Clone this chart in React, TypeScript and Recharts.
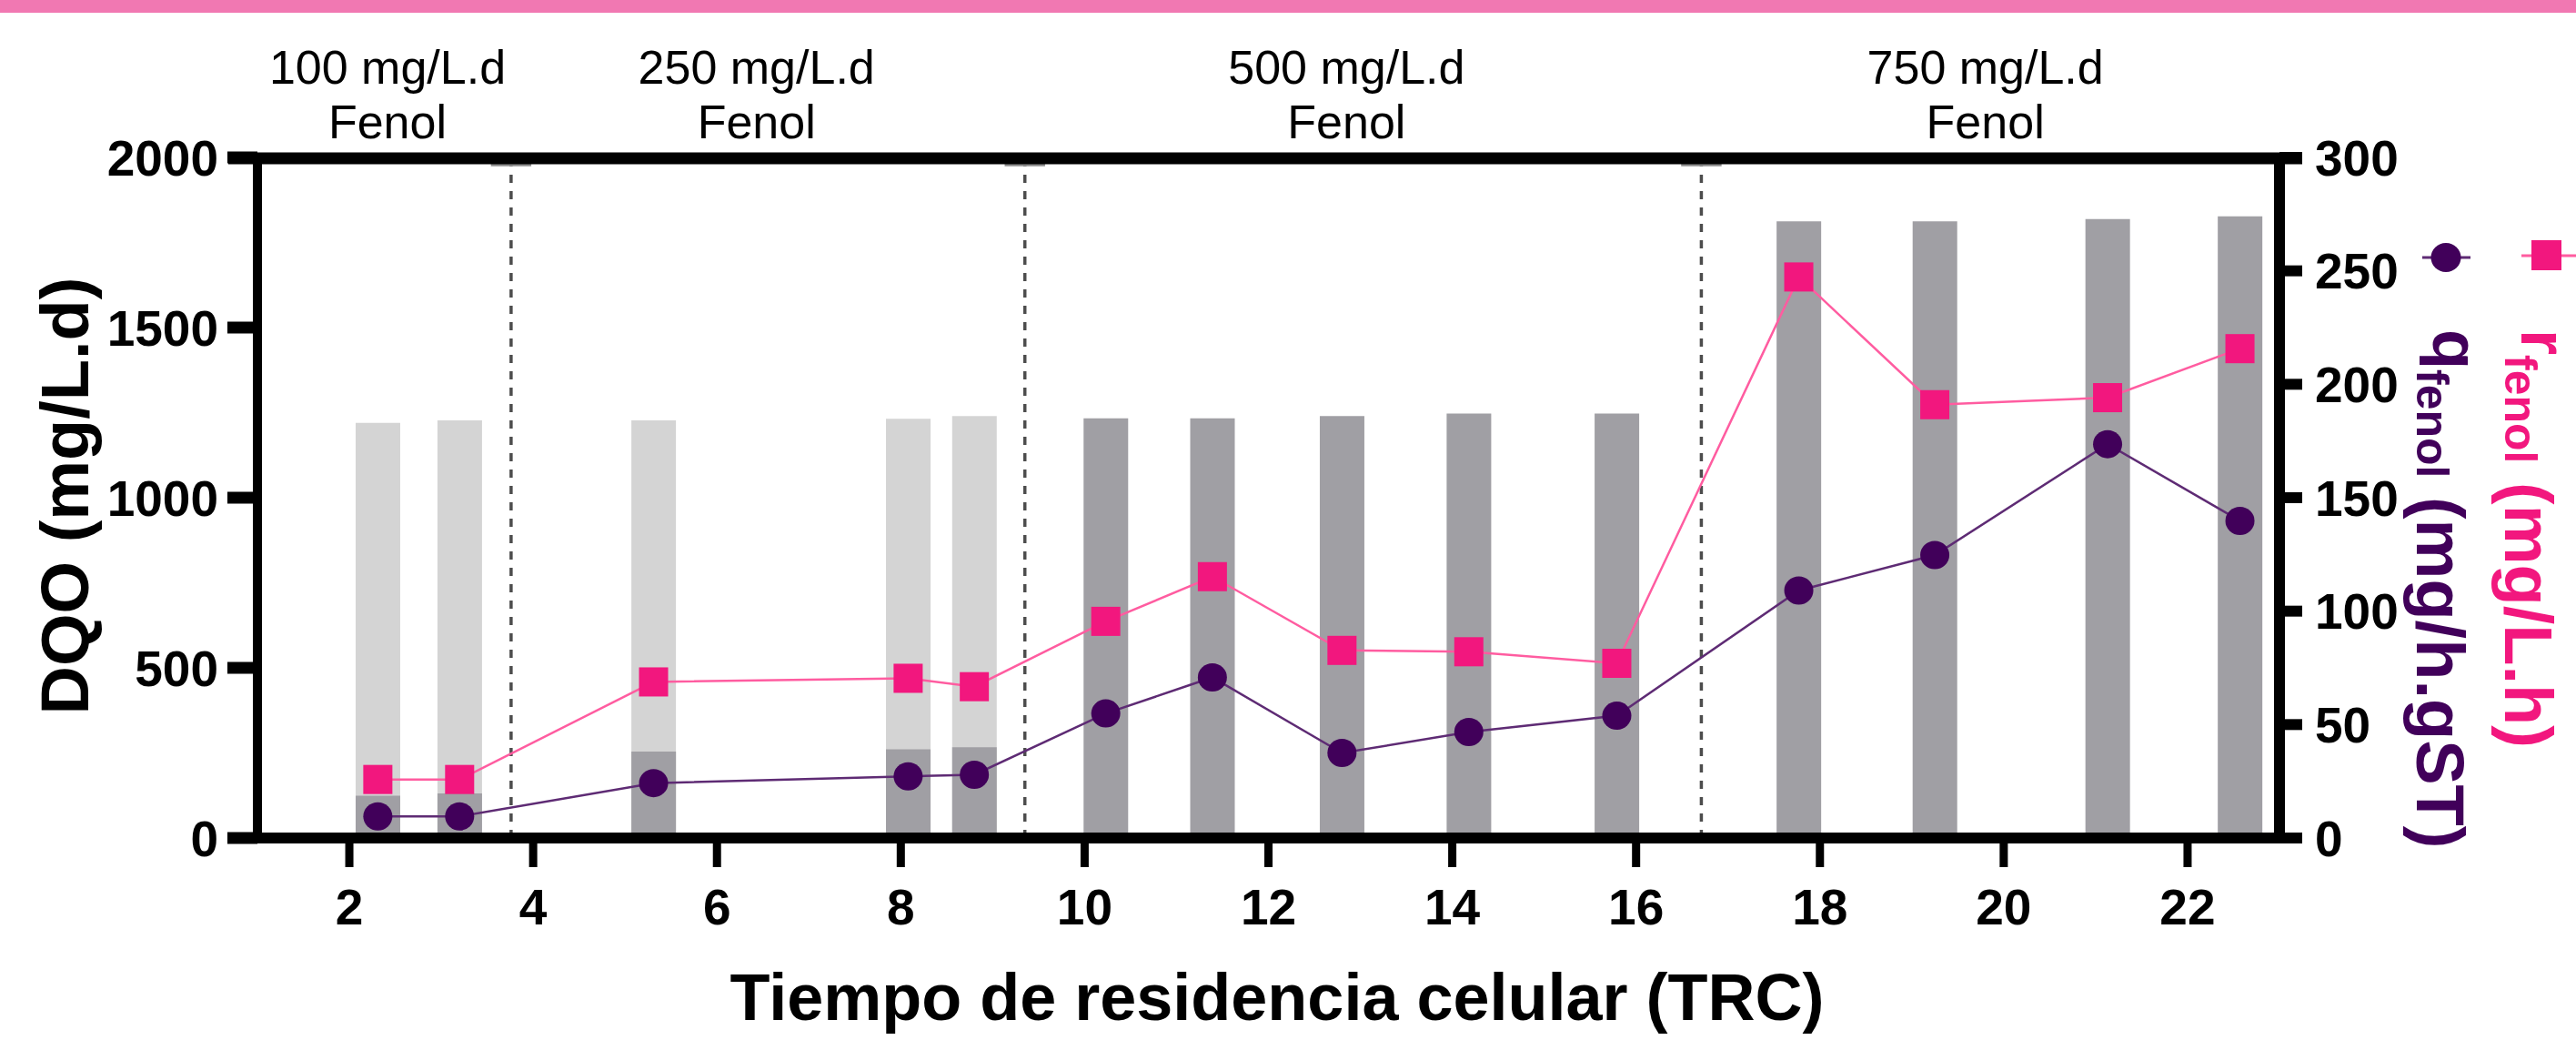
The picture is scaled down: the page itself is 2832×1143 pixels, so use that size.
import React from "react";
import {
  ComposedChart,
  Bar,
  Line,
  XAxis,
  YAxis,
  ReferenceLine,
} from "recharts";

// ---- data ----
const trc = [2.31, 3.2, 5.31, 8.08, 8.8, 10.23, 11.39, 12.8, 14.18, 15.79, 17.77, 19.25, 21.13, 22.57];
const dqoLight = [1220, 1227, 1227, 1232, 1240, null, null, null, null, null, null, null, null, null];
const dqoDark = [124, 131, 254, 261, 267, 1233, 1233, 1240, 1247, 1247, 1812, 1812, 1819, 1827];
const rFenol = [25.8, 25.8, 68.8, 70.4, 66.7, 95.5, 115.2, 82.7, 82.1, 77.0, 247.3, 191.0, 194.1, 215.7];
const qFenol = [9.5, 9.5, 24.2, 27.2, 27.9, 54.9, 70.8, 37.5, 46.7, 53.9, 109.1, 124.7, 173.6, 139.8];
const phaseBounds = [3.76, 9.35, 16.71];
const phaseLabels = ["100 mg/L.d", "250 mg/L.d", "500 mg/L.d", "750 mg/L.d"];
const phaseCenters = [2.415, 6.43, 12.85, 19.8];
const xTicks = [2, 4, 6, 8, 10, 12, 14, 16, 18, 20, 22];
const leftTicks = [0, 500, 1000, 1500, 2000];
const rightTicks = [0, 50, 100, 150, 200, 250, 300];

const data = trc.map((x, i) => ({
  x,
  light: dqoLight[i],
  dark: dqoDark[i],
  q: qFenol[i],
  r: rFenol[i],
}));

// ---- layout ----
const W = 2832;
const H = 1143;
const PLOT_LEFT = 283;
const PLOT_RIGHT = 2506;
const PLOT_TOP = 173;
const PLOT_BOTTOM = 921;
const X_DOMAIN: [number, number] = [1, 23];
const FONT = "'Liberation Sans', Arial, Helvetica, sans-serif";

const PINK = "#F2177E";
const PINK_LINE = "#FF5CA0";
const PURPLE = "#41005A";
const PURPLE_LINE = "#5E2B74";
const LIGHT = "#D4D4D4";
const DARK = "#A09FA4";

const xPix = (v: number) =>
  PLOT_LEFT + ((v - X_DOMAIN[0]) / (X_DOMAIN[1] - X_DOMAIN[0])) * (PLOT_RIGHT - PLOT_LEFT);

const SquareDot = (props: any) => {
  const { cx, cy, index } = props;
  if (cx == null || cy == null) return <g key={`sq-${index}`} />;
  return <rect key={`sq-${index}`} x={cx - 16} y={cy - 16} width={32} height={32} fill={PINK} />;
};

const CircleDot = (props: any) => {
  const { cx, cy, index } = props;
  if (cx == null || cy == null) return <g key={`ci-${index}`} />;
  return <ellipse key={`ci-${index}`} cx={cx} cy={cy} rx={16} ry={15.5} fill={PURPLE} />;
};

const tickStyle = { fontSize: 55, fontWeight: 700, fill: "#000", fontFamily: FONT };

export default function App() {
  return (
    <div style={{ position: "absolute", left: 0, top: 0, width: W, height: H, background: "#fff" }}>
      {/* pink band at the very top */}
      <div style={{ position: "absolute", left: 0, top: 0, width: W, height: 14, background: "#F178B2" }} />
      <ComposedChart
        width={W}
        height={H}
        data={data}
        margin={{ top: PLOT_TOP, right: 0, bottom: 0, left: 0 }}
      >
        <XAxis
          xAxisId="main"
          dataKey="x"
          type="number"
          domain={X_DOMAIN}
          ticks={xTicks}
          interval={0}
          height={H - PLOT_BOTTOM}
          axisLine={{ stroke: "#000", strokeWidth: 12 }}
          tickLine={{ stroke: "#000", strokeWidth: 9 }}
          tickSize={32}
          tickMargin={24}
          tick={tickStyle}
        />
        <XAxis xAxisId="bars2" dataKey="x" type="number" domain={X_DOMAIN} height={0} hide />
        <YAxis
          yAxisId="left"
          domain={[0, 2000]}
          ticks={leftTicks}
          interval={0}
          width={PLOT_LEFT}
          axisLine={{ stroke: "#000", strokeWidth: 10 }}
          tickLine={{ stroke: "#000", strokeWidth: 13 }}
          tickSize={33}
          tickMargin={10}
          tick={tickStyle}
        />
        <YAxis
          yAxisId="right"
          orientation="right"
          domain={[0, 300]}
          ticks={rightTicks}
          interval={0}
          width={W - PLOT_RIGHT}
          axisLine={{ stroke: "#000", strokeWidth: 12 }}
          tickLine={{ stroke: "#000", strokeWidth: 12 }}
          tickSize={25}
          tickMargin={14}
          tick={{ ...tickStyle, textAnchor: "start" }}
        />

        {phaseBounds.map((b, i) => (
          <ReferenceLine
            key={`pb-${i}`}
            xAxisId="main"
            yAxisId="left"
            x={b}
            stroke="#4D4D4D"
            strokeWidth={3.5}
            strokeDasharray="9 9"
          />
        ))}
        {phaseBounds.map((b, i) => (
          <ReferenceLine
            key={`cap-${i}`}
            xAxisId="main"
            yAxisId="left"
            segment={[
              { x: b - 0.22, y: 1978 },
              { x: b + 0.22, y: 1978 },
            ]}
            stroke="#8A8A8A"
            strokeWidth={3}
          />
        ))}

        <Bar
          xAxisId="main"
          yAxisId="left"
          dataKey="light"
          fill={LIGHT}
          barSize={49}
          isAnimationActive={false}
        />
        <Bar
          xAxisId="bars2"
          yAxisId="left"
          dataKey="dark"
          fill={DARK}
          barSize={49}
          isAnimationActive={false}
        />
        <Line
          xAxisId="main"
          yAxisId="right"
          dataKey="q"
          stroke={PURPLE_LINE}
          strokeWidth={2.5}
          dot={CircleDot}
          activeDot={false}
          isAnimationActive={false}
        />
        <Line
          xAxisId="main"
          yAxisId="right"
          dataKey="r"
          stroke={PINK_LINE}
          strokeWidth={2.5}
          dot={SquareDot}
          activeDot={false}
          isAnimationActive={false}
        />
      </ComposedChart>

      {/* annotation overlay */}
      <svg
        width={W}
        height={H}
        style={{ position: "absolute", left: 0, top: 0, pointerEvents: "none" }}
        fontFamily={FONT}
      >
        {/* top frame line */}
        <line x1={251} y1={174} x2={2531} y2={174} stroke="#000" strokeWidth={13} />

        {phaseLabels.map((lab, i) => (
          <g key={`pl-${i}`}>
            <text x={xPix(phaseCenters[i])} y={92} fontSize={52} textAnchor="middle" fill="#000">
              {lab}
            </text>
            <text x={xPix(phaseCenters[i])} y={152} fontSize={52} textAnchor="middle" fill="#000">
              Fenol
            </text>
          </g>
        ))}

        {/* x title */}
        <text x={1404} y={1121} fontSize={72} fontWeight={700} textAnchor="middle" fill="#000">
          Tiempo de residencia celular (TRC)
        </text>

        {/* left y title */}
        <text
          transform="translate(97,545) rotate(-90)"
          fontSize={74}
          fontWeight={700}
          textAnchor="middle"
          fill="#000"
        >
          DQO (mg/L.d)
        </text>

        {/* right y titles */}
        <text transform="translate(2675,362) rotate(90)" fontWeight={700} fill={PURPLE}>
          <tspan fontSize={72}>q</tspan>
          <tspan fontSize={50} dy={18}>fenol</tspan>
          <tspan fontSize={74}> (mg/h.gST)</tspan>
        </text>
        <text transform="translate(2772,362) rotate(90)" fontWeight={700} fill={PINK}>
          <tspan fontSize={72}>r</tspan>
          <tspan fontSize={50} dy={18}>fenol</tspan>
          <tspan fontSize={74}> (mg/L.h)</tspan>
        </text>

        {/* legend symbols */}
        <line x1={2663} y1={283} x2={2716} y2={283} stroke={PURPLE_LINE} strokeWidth={3} />
        <ellipse cx={2689} cy={283} rx={16.5} ry={16} fill={PURPLE} />
        <line x1={2772} y1={281} x2={2832} y2={281} stroke={PINK_LINE} strokeWidth={3} />
        <rect x={2783} y={264} width={33} height={33} fill={PINK} />
      </svg>
    </div>
  );
}
